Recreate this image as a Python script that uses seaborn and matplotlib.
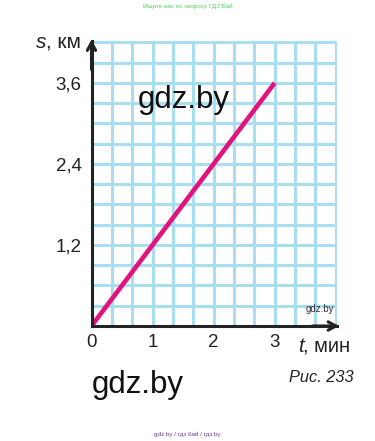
import numpy as np
import matplotlib
matplotlib.use("Agg")
import matplotlib.pyplot as plt
import seaborn as sns

# ---- data ----
t_values = [0, 3]            # time, min
s_values = [0, 3.6]          # distance, km
x_tick_vals = [0, 1, 2, 3]
x_tick_labels = ["0", "1", "2", "3"]
y_tick_vals = [1.2, 2.4, 3.6]
y_tick_labels = ["1,2", "2,4", "3,6"]

sns.set_style("white")
plt.rcParams['font.family'] = ['Liberation Sans', 'DejaVu Sans']

W, H = 375, 441
fig = plt.figure(figsize=(W / 100, H / 100), dpi=100)

def fx(px):
    return px / W

def fy(py):
    return 1 - py / H

x0, x1 = 91.5, 337
y0, y1 = 326, 41
ax = fig.add_axes([fx(x0), fy(y0), (x1 - x0) / W, (y0 - y1) / H])

sns.lineplot(x=t_values, y=s_values, ax=ax, color="#e2127e", linewidth=3.3,
             solid_capstyle="butt", zorder=5)

ax.set_xlim(0, 4.02)
ax.set_ylim(0, 4.22)

ax.set_xticks(x_tick_vals)
ax.set_xticklabels(x_tick_labels, fontsize=13.5)
ax.set_yticks(y_tick_vals)
ax.set_yticklabels(y_tick_labels, fontsize=13.5)
ax.set_xticks(np.arange(0, 4.01, 1 / 3), minor=True)
ax.set_yticks(np.arange(0, 4.21, 0.3), minor=True)

ax.grid(True, which="both", color="#a8def2", linewidth=2.2, zorder=0)
ax.set_axisbelow(True)

ax.tick_params(axis="both", which="major", direction="in", length=10, width=2,
               color="black", labelcolor="#222222")
ax.tick_params(axis="x", which="major", pad=6)
ax.tick_params(axis="y", which="major", pad=7)
ax.tick_params(axis="both", which="minor", length=0)
# hide tick mark at 0
ax.xaxis.get_major_ticks()[0].tick1line.set_visible(False)

for side in ["top", "right"]:
    ax.spines[side].set_visible(False)
for side in ["left", "bottom"]:
    ax.spines[side].set_linewidth(2.2)
    ax.spines[side].set_color("#222222")
    ax.spines[side].set_zorder(6)

arrow_style = "->, head_length=0.55, head_width=0.3"
ax.annotate("", xy=(1.008, 0), xycoords="axes fraction", xytext=(0.9, 0),
            arrowprops=dict(arrowstyle=arrow_style, lw=2.2, color="#222222",
                            shrinkA=0, shrinkB=0), annotation_clip=False)
ax.annotate("", xy=(0, 1.005), xycoords="axes fraction", xytext=(0, 0.9),
            arrowprops=dict(arrowstyle=arrow_style, lw=2.2, color="#222222",
                            shrinkA=0, shrinkB=0), annotation_clip=False)

# axis labels
fig.text(fx(36), fy(48), "s", fontsize=15, style="italic", color="#222222", va="baseline")
fig.text(fx(46), fy(48), ", км", fontsize=15, color="#222222", va="baseline")
fig.text(fx(298), fy(352), "t", fontsize=14.5, style="italic", color="#222222", va="baseline")
fig.text(fx(303), fy(352), ", мин", fontsize=14.5, color="#222222", va="baseline")
fig.text(fx(289), fy(382), "Рис. 233", fontsize=11.8, style="italic", color="#222222", va="baseline")

# watermarks
fig.text(fx(138), fy(108), "gdz.by", fontsize=22.5, color="#111111", va="baseline")
fig.text(fx(92), fy(393), "gdz.by", fontsize=22.5, color="#111111", va="baseline")
fig.text(fx(306), fy(312), "gdz.by", fontsize=7, color="#333333", va="baseline")
fig.text(0.5, fy(6), "Ищите нас по запросу ГДЗ Бай", fontsize=4.5, color="#4fd35f",
         ha="center", va="center")
fig.text(0.5, fy(434), "gdz.by / гдз бай / гдз by", fontsize=4.5, color="#6a3fa0",
         ha="center", va="center")

fig.savefig("out.png", dpi=100)
